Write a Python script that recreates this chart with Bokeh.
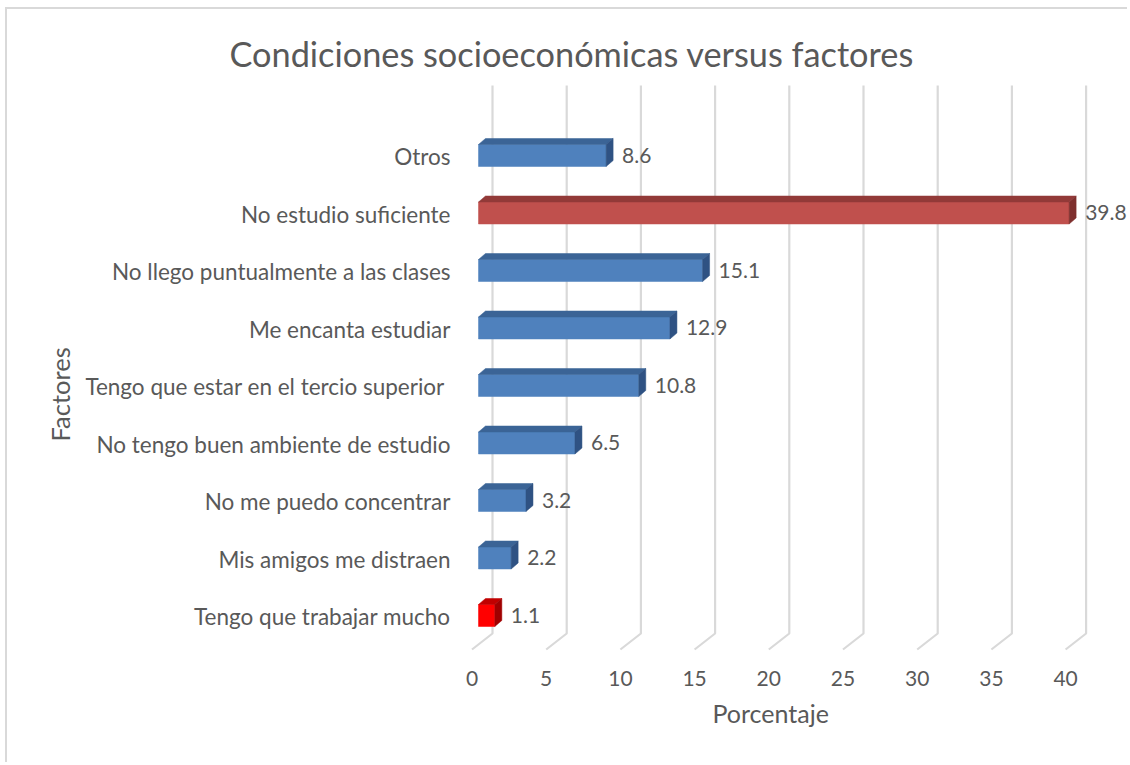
from bokeh.plotting import figure
from bokeh.models import (Range1d, LinearAxis, FixedTicker, LabelSet, Title,
                          ColumnDataSource)
from bokeh.core.properties import value
from bokeh.embed import file_html
from bokeh.resources import INLINE

# ---------------- data ----------------
categories = [
    "Tengo que trabajar mucho",
    "Mis amigos me distraen",
    "No me puedo concentrar",
    "No tengo buen ambiente de estudio",
    "Tengo que  estar en el tercio superior",
    "Me encanta estudiar",
    "No llego puntualmente a las clases",
    "No estudio suficiente",
    "Otros",
]
values = [1.1, 2.2, 3.2, 6.5, 10.8, 12.9, 15.1, 39.8, 8.6]
x_ticks = [0, 5, 10, 15, 20, 25, 30, 35, 40]
title_text = "Condiciones socioeconómicas versus factores"
x_title = "Porcentaje"
y_title = "Factores"

# ---------------- styles ----------------
BLUE = ("#4F81BD", "#3B6496", "#2F5283")
BROWN = ("#C0504D", "#923A38", "#7E2F2D")
RED = ("#FF0000", "#C00000", "#A00000")
styles = [RED, BLUE, BLUE, BLUE, BLUE, BLUE, BLUE, BROWN, BLUE]
TXT = "#595959"
GRID = "#D9D9D9"
FONT = "Lato"

# ---------------- geometry (page pixels) ----------------
OX, OY = 7, 9                     # canvas origin on the page
W, H = 1122, 755                  # canvas size
PFL, PFT, PFB = 452, 77, 652      # frame left / top / bottom on page
SX, SY = 14.84, 57.5              # px per unit
PX0, PY0 = 478.0, 616.0           # page x of bar zero, page y of index 0

def dx(px):
    return px / SX

def dy(px):
    return px / SY

x_start = (PFL - PX0) / SX
x_end = (OX + W - PX0) / SX
y_end = (PY0 - PFT) / SY
y_start = (PY0 - PFB) / SY

p = figure(width=W, height=H, output_backend="svg", toolbar_location=None,
           x_range=Range1d(x_start, x_end), y_range=Range1d(y_start, y_end),
           x_axis_location=None, y_axis_location="left",
           min_border_left=PFL - OX, min_border_right=0,
           min_border_top=PFT - OY, min_border_bottom=OY + H - PFB)
p.grid.visible = False
p.outline_line_color = None
p.background_fill_color = "white"
p.border_fill_color = "white"
p.styles = {"margin-left": "5px", "margin-top": "7px",
            "border-top": "2px solid #D9D9D9",
            "border-left": "2px solid #D9D9D9"}

# 3D walls
BACK = dx(14.0)
FLOOR = dx(-6.5)
G_TOP = dy(PY0 - 85)
G_BEND = dy(PY0 - 633)
G_BOT = dy(PY0 - 649)

xs, ys = [], []
for k in x_ticks:
    xs.append([k + BACK, k + BACK, k + FLOOR])
    ys.append([G_TOP, G_BEND, G_BOT])
p.multi_line(xs, ys, line_color=GRID, line_width=2.2)

# bars
C, HH = dy(1.0), dy(11.0)
DX, DY = dx(7.0), dy(6.0)
idx = list(range(len(categories)))
front = ColumnDataSource(dict(
    left=[0.0] * len(values), right=values,
    bottom=[i + C - HH for i in idx], top=[i + C + HH for i in idx],
    color=[s[0] for s in styles]))
p.quad(left="left", right="right", bottom="bottom", top="top",
       fill_color="color", line_color="color", line_width=0.5, source=front)

top_xs, top_ys, side_xs, side_ys = [], [], [], []
for i, v in zip(idx, values):
    t, b = i + C + HH, i + C - HH
    top_xs.append([0, v, v + DX, DX])
    top_ys.append([t, t, t + DY, t + DY])
    side_xs.append([v, v + DX, v + DX, v])
    side_ys.append([b, b + DY, t + DY, t])
p.patches(top_xs, top_ys, fill_color=[s[1] for s in styles],
          line_color=[s[1] for s in styles], line_width=0.5)
p.patches(side_xs, side_ys, fill_color=[s[2] for s in styles],
          line_color=[s[2] for s in styles], line_width=0.5)

# value labels
lab = ColumnDataSource(dict(x=[v + dx(16.0) for v in values],
                            y=[i + dy(1.5) for i in idx],
                            t=[f"{v:.1f}" for v in values]))
p.add_layout(LabelSet(x="x", y="y", text="t", source=lab,
                      text_font=value(FONT), text_font_size="21px",
                      text_color=TXT, text_baseline="middle",
                      text_align="left"))

# category axis
ya = p.yaxis[0]
ya.ticker = FixedTicker(ticks=idx)
ya.major_label_overrides = {i: c for i, c in zip(idx, categories)}
ya.axis_line_color = None
ya.major_tick_line_color = None
ya.minor_tick_line_color = None
ya.major_tick_out = 0
ya.major_tick_in = 0
ya.major_label_standoff = 2
ya.major_label_text_font = FONT
ya.major_label_text_font_size = "22.5px"
ya.major_label_text_color = TXT

# value axis on the floor edge
shift = 6.5 / SX
p.extra_x_ranges = {"floor": Range1d(x_start + shift, x_end + shift)}
xa = LinearAxis(x_range_name="floor", ticker=FixedTicker(ticks=x_ticks))
xa.axis_line_color = None
xa.major_tick_line_color = None
xa.minor_tick_line_color = None
xa.major_label_standoff = 12
xa.major_label_text_font = FONT
xa.major_label_text_font_size = "21px"
xa.major_label_text_color = TXT
p.add_layout(xa, "below")

# titles
p.add_layout(Title(text=title_text, align="left", offset=229 - PFL,
                   text_font=FONT, text_font_size="34.3px",
                   text_font_style="normal", text_color=TXT,
                   standoff=8), "above")
p.add_layout(Title(text=x_title, align="left", offset=712 - PFL,
                   text_font=FONT, text_font_size="25px",
                   text_font_style="normal", text_color=TXT,
                   standoff=15), "below")
p.add_layout(Title(text=y_title, align="left", offset=PFB - 441,
                   text_font=FONT, text_font_size="25.5px",
                   text_font_style="normal", text_color=TXT,
                   standoff=15), "left")

open("out.html", "w").write(file_html(p, INLINE))
